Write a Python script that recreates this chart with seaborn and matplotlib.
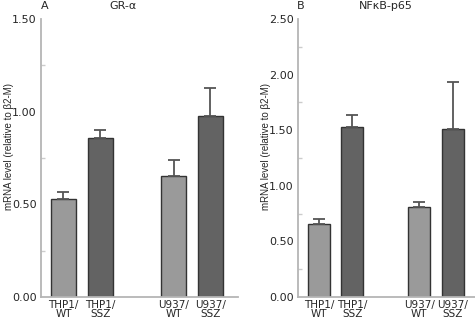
import numpy as np
import pandas as pd
import matplotlib
matplotlib.use("Agg")
import matplotlib.pyplot as plt
import seaborn as sns

# data
groups = ["THP1/\nWT", "THP1/\nSSZ", "", "U937/\nWT", "U937/\nSSZ"]
gr_mean = [0.53, 0.86, np.nan, 0.655, 0.975]
gr_err = [0.035, 0.04, np.nan, 0.085, 0.155]
nf_mean = [0.655, 1.53, np.nan, 0.805, 1.51]
nf_err = [0.05, 0.11, np.nan, 0.05, 0.42]
bar_colors = ["#9a9a9a", "#636363", "#ffffff", "#9a9a9a", "#636363"]

sns.set_style("white")
plt.rcParams["font.family"] = ["DejaVu Sans"]

W, H = 475, 323
fig = plt.figure(figsize=(W / 100, H / 100), dpi=100)


def px_axes(left, right, top, bottom):
    return fig.add_axes([left / W, 1 - bottom / H, (right - left) / W, (bottom - top) / H])


def panel(ax, means, errs, ymax, xlim, width):
    df = pd.DataFrame({"group": groups, "value": means})
    sns.barplot(data=df, x="group", y="value", order=groups, hue="group",
                palette=bar_colors, legend=False, width=width,
                edgecolor="#333333", linewidth=1.0, ax=ax)
    x = np.arange(len(groups))
    e = np.array(errs)
    ax.errorbar(x, means, yerr=[np.zeros_like(e), e], fmt="none",
                ecolor="#555555", elinewidth=1.3, capsize=4, capthick=1.3)
    ax.set_ylim(0, ymax)
    ax.set_xlim(*xlim)
    ax.set_xlabel("")
    ax.set_ylabel("mRNA level (relative to β2-M)", fontsize=7,
                  family=["Liberation Sans", "DejaVu Sans"])
    ax.set_yticks(np.arange(0, ymax + 0.01, 0.5))
    ax.set_yticks(np.arange(0.25, ymax, 0.5), minor=True)
    ax.set_yticklabels([f"{v:.2f}" for v in np.arange(0, ymax + 0.01, 0.5)])
    ax.tick_params(axis="y", which="major", direction="in", length=5, width=1,
                   color="#aaaaaa", labelsize=8, pad=3)
    ax.tick_params(axis="y", which="minor", direction="in", length=3, width=1,
                   color="#cccccc", left=True)
    ax.tick_params(axis="x", length=0, labelsize=7.5, pad=2)
    sns.despine(ax=ax, top=True, right=True)
    for s in ["left", "bottom"]:
        ax.spines[s].set_color("#b5b5b5")
        ax.spines[s].set_linewidth(1.3)
    for lab in ax.get_xticklabels():
        lab.set_linespacing(0.95)


axA = px_axes(41, 238, 19, 297)
panel(axA, gr_mean, gr_err, 1.5, (-0.61, 4.75), 0.68)
axA.yaxis.set_label_coords(-0.135, 0.54)

axB = px_axes(298, 475, 19, 297)
panel(axB, nf_mean, nf_err, 2.5, (-0.63, 4.67), 0.66)
axB.yaxis.set_label_coords(-0.15, 0.54)

fig.text(45 / W, 1 - 6 / H, "A", fontsize=8, ha="center", va="center")
fig.text(123 / W, 1 - 6 / H, "GR-α", fontsize=8, ha="center", va="center")
fig.text(301 / W, 1 - 6 / H, "B", fontsize=8, ha="center", va="center")
fig.text(386 / W, 1 - 6 / H, "NFκB-p65", fontsize=8, ha="center", va="center")

fig.savefig("out.png", dpi=100)
